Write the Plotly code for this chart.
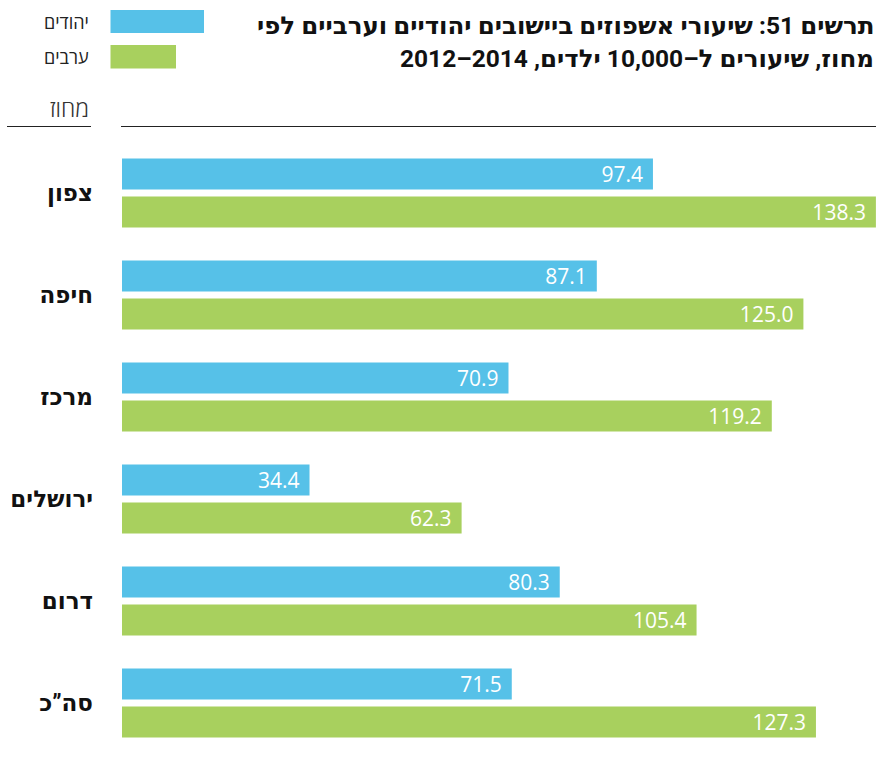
import plotly.graph_objects as go

# Hospitalisation rates per 10,000 children, by district
regions = ["צפון", "חיפה", "מרכז", "ירושלים", "דרום", "סה”כ"]
jews = [97.4, 87.1, 70.9, 34.4, 80.3, 71.5]
arabs = [138.3, 125.0, 119.2, 62.3, 105.4, 127.3]
series_names = ["יהודים", "ערבים"]
colors = ["#56C1E8", "#A8D05E"]

title_line1 = "תרשים 51: שיעורי אשפוזים ביישובים יהודיים וערביים לפי"
title_line2 = "מחוז, שיעורים ל–10,000 ילדים, \u202a2012–2014\u202c"
axis_title = "מחוז"

FONT = "Open Sans"
# Latin digits from Roboto, Hebrew letters fall back to DejaVu Sans
BOLD_FONT = "Roboto, DejaVu Sans"
W, H = 877, 776
ML, MR, MT, MB = 122, 0, 142, 22
PW, PH = W - ML - MR, H - MT - MB


def px_x(p):
    return (p - ML) / PW


def px_y(p):
    return 1 - (p - MT) / PH


def rtl(s):
    return "\u202b" + s + "\u202c"


fig = go.Figure()
for name, vals, col in zip(series_names, [jews, arabs], colors):
    fig.add_trace(go.Bar(
        y=regions, x=vals, orientation="h", name=name,
        marker=dict(color=col, line=dict(width=0)),
        text=[f"{v:.1f}\u2004" for v in vals],
        textposition="inside", insidetextanchor="end",
        constraintext="none",
        textfont=dict(family=FONT, size=21, color="white"),
        hoverinfo="skip",
    ))

shapes = [
    # legend swatches
    dict(type="rect", xref="paper", yref="paper",
         x0=px_x(110.5), x1=px_x(204), y0=px_y(33), y1=px_y(10),
         fillcolor=colors[0], line=dict(width=0)),
    dict(type="rect", xref="paper", yref="paper",
         x0=px_x(110.5), x1=px_x(176), y0=px_y(68.5), y1=px_y(45),
         fillcolor=colors[1], line=dict(width=0)),
    # header rules
    dict(type="line", xref="paper", yref="paper",
         x0=px_x(7), x1=px_x(91), y0=px_y(126.5), y1=px_y(126.5),
         line=dict(color="#222", width=1)),
    dict(type="line", xref="paper", yref="paper",
         x0=px_x(121), x1=px_x(876), y0=px_y(126.5), y1=px_y(126.5),
         line=dict(color="#222", width=1)),
]

annotations = [
    dict(text=rtl(title_line1), xref="paper", yref="paper",
         x=px_x(876), y=px_y(25.5), xanchor="right", yanchor="middle",
         showarrow=False,
         font=dict(family=BOLD_FONT, size=24.5, color="#111", weight="bold")),
    dict(text=rtl(title_line2), xref="paper", yref="paper",
         x=px_x(876), y=px_y(58.5), xanchor="right", yanchor="middle",
         showarrow=False,
         font=dict(family=BOLD_FONT, size=24.5, color="#111", weight="bold")),
    dict(text=rtl(series_names[0]), xref="paper", yref="paper",
         x=px_x(91), y=px_y(22), xanchor="right", yanchor="middle",
         showarrow=False, font=dict(family=FONT, size=18, color="#222")),
    dict(text=rtl(series_names[1]), xref="paper", yref="paper",
         x=px_x(91), y=px_y(57), xanchor="right", yanchor="middle",
         showarrow=False, font=dict(family=FONT, size=18, color="#222")),
    dict(text=rtl(axis_title), xref="paper", yref="paper",
         x=px_x(91), y=px_y(108), xanchor="right", yanchor="middle",
         showarrow=False,
         font=dict(family=FONT, size=23, color="#333", weight=300)),
]

fig.update_layout(
    width=W, height=H,
    margin=dict(l=ML, r=MR, t=MT, b=MB, pad=0),
    paper_bgcolor="white", plot_bgcolor="white",
    barmode="group", bargap=0.255, bargroupgap=0.19,
    showlegend=False,
    shapes=shapes, annotations=annotations,
    xaxis=dict(range=[0, 138.5], visible=False, fixedrange=True),
    yaxis=dict(
        categoryorder="array", categoryarray=regions,
        autorange="reversed", showgrid=False, zeroline=False,
        showline=False, ticks="", ticklabelstandoff=28,
        tickfont=dict(family=BOLD_FONT, size=23, color="#111", weight="bold"),
        fixedrange=True,
    ),
    font=dict(family=FONT),
)

fig.write_html("out.html", config={"displayModeBar": False})
